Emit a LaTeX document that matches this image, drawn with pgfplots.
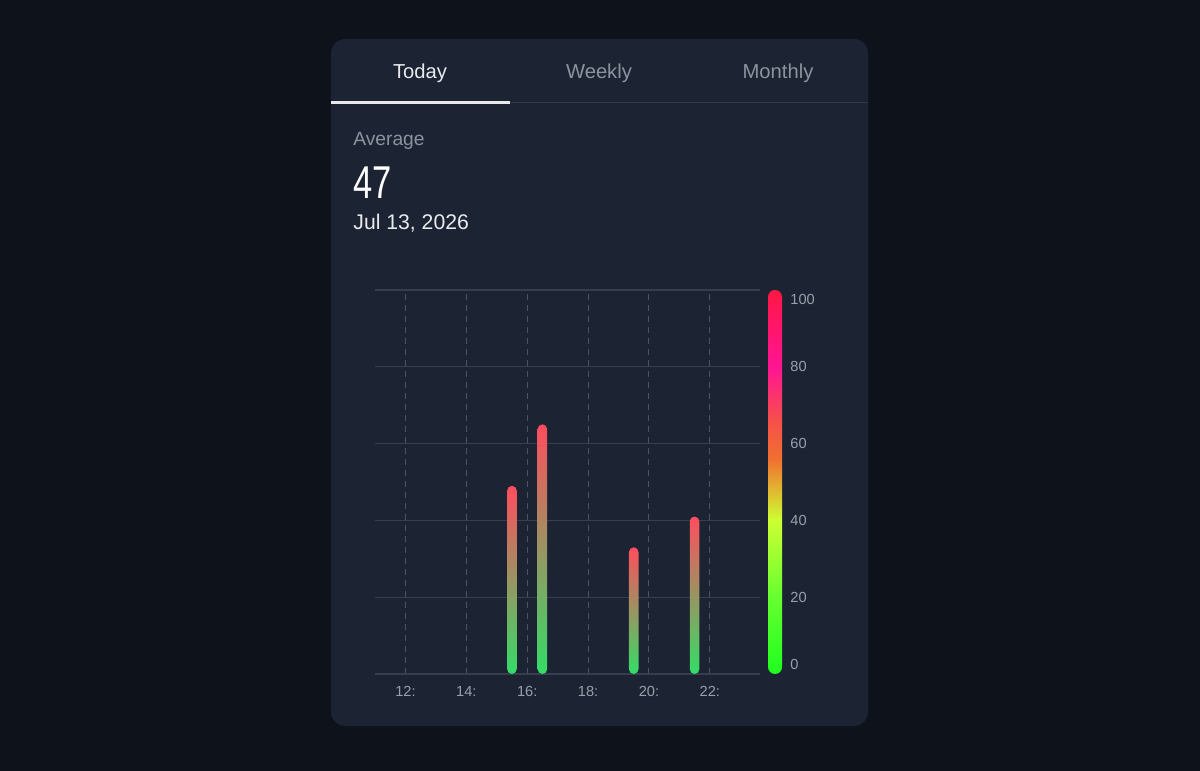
\documentclass[border=0pt]{standalone}
\usepackage{fontspec}
\setmainfont{Liberation Sans}
\usepackage{pgfplots}
\pgfplotsset{compat=1.18}
\definecolor{bg}{HTML}{0E121B}
\definecolor{card}{HTML}{1C2333}
\definecolor{sepline}{HTML}{313949}
\definecolor{tabactive}{HTML}{E8EAEE}
\definecolor{tabidle}{HTML}{8D939D}
\definecolor{avg}{HTML}{8D939D}
\definecolor{gridh}{HTML}{363E4F}
\definecolor{gridv}{HTML}{4A5264}
\definecolor{ticklab}{HTML}{9AA0AA}
\definecolor{barlow}{HTML}{33DD66}
\definecolor{barhigh}{HTML}{FF4D5E}
\definecolor{cb0}{HTML}{1EFF1E}
\definecolor{cb20}{HTML}{66FF30}
\definecolor{cb40}{HTML}{CCFF33}
\definecolor{cb50}{HTML}{E6A530}
\definecolor{cb56}{HTML}{F07030}
\definecolor{cb66}{HTML}{F5504A}
\definecolor{cb80}{HTML}{FF1493}
\definecolor{cb100}{HTML}{FF1744}
\pgfdeclareverticalshading{cbar}{100bp}{color(0bp)=(cb0); color(25bp)=(cb0); color(35bp)=(cb20); color(45bp)=(cb40); color(50bp)=(cb50); color(53bp)=(cb56); color(58bp)=(cb66); color(65bp)=(cb80); color(75bp)=(cb100); color(100bp)=(cb100)}
\begin{document}
\begin{tikzpicture}[x=0.5pt,y=0.5pt]
\fill[bg] (0,0) rectangle (1200,771);
\useasboundingbox (0,0) rectangle (1200,771);
\fill[card, rounded corners=7pt] (331,45) rectangle (868,732);
\draw[sepline, line width=0.5pt] (331,668) -- (868,668);
\draw[tabactive, line width=1.5pt] (331,668) -- (510,668);
\node[font=\fontsize{10.1}{12}\selectfont, text=tabactive, inner sep=0pt] at (420,698) {Today};
\node[font=\fontsize{10.1}{12}\selectfont, text=tabidle, inner sep=0pt] at (599,698) {Weekly};
\node[font=\fontsize{10.1}{12}\selectfont, text=tabidle, inner sep=0pt] at (778,698) {Monthly};
\node[anchor=west, inner sep=0pt, font=\fontsize{9.6}{11}\selectfont, text=avg] at (353,630) {Average};
\node[anchor=west, inner sep=0pt, xscale=0.75, font=\fontsize{23}{26}\selectfont, text=white] at (353,588) {47};
\node[anchor=west, inner sep=0pt, font=\fontsize{10.6}{13}\selectfont, text=tabactive] at (353,548) {Jul 13, 2026};
\begin{axis}[
  at={(187.5pt,48.5pt)}, anchor=south west,
  scale only axis, width=192.5pt, height=192pt,
  xmin=11, xmax=23.65, ymin=0, ymax=100,
  axis line style={draw=none}, tick style={draw=none},
  ytick={0,20,...,100}, yticklabels={},
  xtick={12,14,...,22}, xticklabels={12:,14:,16:,18:,20:,22:},
  xmajorgrids, ymajorgrids,
  x grid style={gridv, dash pattern=on 3pt off 2.5pt, line width=0.5pt},
  y grid style={gridh, line width=0.6pt},
  xticklabel style={font=\fontsize{7.3}{9}\selectfont, text=ticklab, yshift=-2.5pt},
  /pgf/number format/assume math mode=true,
  clip=false,
]
\addplot[ybar, bar width=4.8pt, bar shift=0pt, draw=none, bottom color=barlow, top color=barhigh, rounded corners=2.4pt] coordinates {(15.5,49)};
\addplot[ybar, bar width=4.8pt, bar shift=0pt, draw=none, bottom color=barlow, top color=barhigh, rounded corners=2.4pt] coordinates {(16.5,65)};
\addplot[ybar, bar width=4.8pt, bar shift=0pt, draw=none, bottom color=barlow, top color=barhigh, rounded corners=2.4pt] coordinates {(19.5,33)};
\addplot[ybar, bar width=4.8pt, bar shift=0pt, draw=none, bottom color=barlow, top color=barhigh, rounded corners=2.4pt] coordinates {(21.5,41)};
\end{axis}
\shade[shading=cbar, rounded corners=3.5pt] (768,97) rectangle (782,481);
\foreach \v/\yy in {100/472, 80/405, 60/328, 40/251, 20/174, 0/107}
  \node[anchor=west, inner sep=0pt, font=\fontsize{7.3}{9}\selectfont, text=ticklab] at (790,\yy) {\v};
\end{tikzpicture}
\end{document}
